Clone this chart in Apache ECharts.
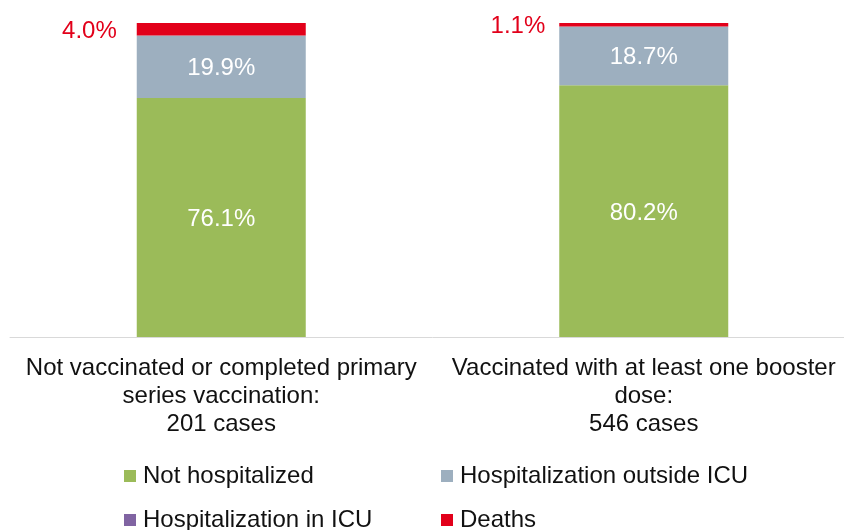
<!DOCTYPE html>
<html>
<head>
<meta charset="utf-8">
<script src="https://cdn.jsdelivr.net/npm/echarts@6/dist/echarts.min.js"></script>
<style>
  html, body { margin: 0; padding: 0; background: #fff; overflow: hidden; }
  #chart { width: 855px; height: 530px; }
</style>
</head>
<body>
<div id="chart"></div>
<script>
// data
var categories = [
    'Not vaccinated or completed primary\nseries vaccination:\n201 cases',
    'Vaccinated with at least one booster\ndose:\n546 cases'
];
var seriesNames = ['Not hospitalized', 'Hospitalization outside ICU', 'Hospitalization in ICU', 'Deaths'];
var notHospitalized = [76.1, 80.2];
var outsideICU = [19.9, 18.7];
var inICU = [0, 0];
var deaths = [4.0, 1.1];

var colors = ['#9bbb59', '#9dafbf', '#8064a2', '#e2001a'];
var fontFamily = '"Liberation Sans", Arial, sans-serif';
var deathLabelGap = [20, 14];
// legend slots: [left, top] for each series name, two columns
var legendSlots = [[124, 464], [441, 464], [124, 508], [441, 508]];

var chart = echarts.init(document.getElementById('chart'));

var insideLabel = {
    show: true
    , position: 'inside'
    , offset: [0, 2]
    , color: '#fff'
    , fontSize: 24
    , fontFamily: fontFamily
    , formatter: function (p) { return p.value.toFixed(1) + '%'; }
};

var legends = seriesNames.map(function (name, i) {
    return {
        left: legendSlots[i][0]
        , top: legendSlots[i][1]
        , padding: 0
        , itemWidth: 12
        , itemHeight: 12
        , icon: 'rect'
        , textStyle: { fontSize: 24, lineHeight: 24, color: '#111', fontFamily: fontFamily, padding: [0, 0, 0, 2] }
        , data: [name]
    };
});

var option = {
    animation: false
    , color: colors
    , grid: { left: 10, right: 0, top: 23, bottom: 193 }
    , legend: legends
    , xAxis: {
        type: 'category'
        , data: categories
        , axisLine: { lineStyle: { color: '#d9d9d9', width: 1 } }
        , axisTick: { show: false }
        , axisLabel: {
            interval: 0
            , margin: 17
            , fontSize: 24
            , lineHeight: 28
            , color: '#111'
            , fontFamily: fontFamily
        }
    }
    , yAxis: {
        type: 'value'
        , min: 0
        , max: 100
        , show: false
        , splitLine: { show: false }
    }
    , series: [
        {
            name: seriesNames[0]
            , type: 'bar'
            , stack: 'total'
            , barWidth: 169
            , data: notHospitalized
            , label: insideLabel
        }
        , {
            name: seriesNames[1]
            , type: 'bar'
            , stack: 'total'
            , data: outsideICU
            , label: insideLabel
        }
        , {
            name: seriesNames[2]
            , type: 'bar'
            , stack: 'total'
            , data: inICU
            , label: { show: false }
        }
        , {
            name: seriesNames[3]
            , type: 'bar'
            , stack: 'total'
            , data: deaths.map(function (v, i) {
                return { value: v, label: { distance: deathLabelGap[i] } };
            })
            , label: {
                show: true
                , position: 'left'
                , offset: [0, 2]
                , color: '#e2001a'
                , fontSize: 24
                , fontFamily: fontFamily
                , formatter: function (p) { return p.value.toFixed(1) + '%'; }
            }
        }
    ]
};

chart.setOption(option, true);
</script>
</body>
</html>
